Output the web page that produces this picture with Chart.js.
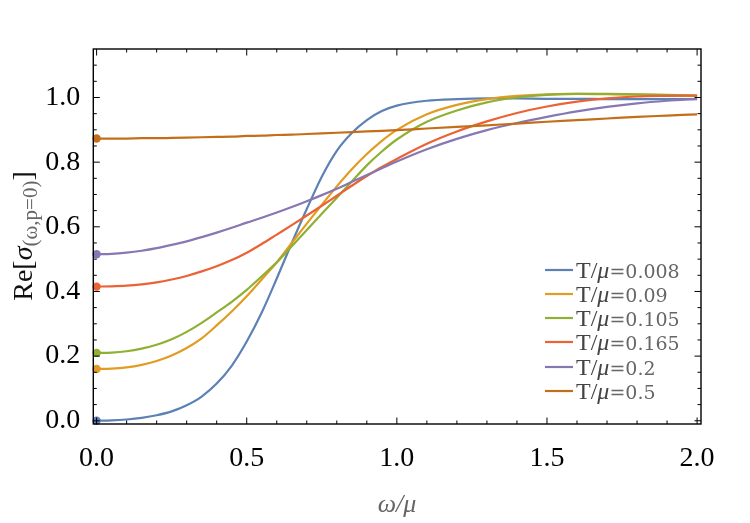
<!DOCTYPE html>
<html><head><meta charset="utf-8">
<script src="https://cdn.jsdelivr.net/npm/chart.js@4/dist/chart.umd.min.js"></script>
<style>html,body{margin:0;padding:0;background:#fff;} canvas{display:block;}</style>
</head><body>
<canvas id="c" width="750" height="523"></canvas>
<script>
// omega / mu sample positions
const omega = [0,0.05,0.1,0.15,0.2,0.25,0.3,0.35,0.4,0.45,0.5,0.55,0.6,0.65,0.7,0.75,0.8,0.85,0.9,0.95,1.0,1.1,1.2,1.3,1.4,1.5,1.6,1.7,1.8,1.9,2.0];
// Re[sigma] for each T/mu
const sigT0008 = [0,0.001,0.004,0.009,0.017,0.029,0.048,0.075,0.115,0.17,0.245,0.335,0.44,0.55,0.655,0.755,0.835,0.89,0.93,0.958,0.975,0.99,0.995,0.997,0.997,0.996,0.996,0.995,0.995,0.995,0.995];
const sigT009  = [0.16,0.161,0.165,0.173,0.185,0.202,0.225,0.255,0.295,0.338,0.385,0.437,0.49,0.55,0.61,0.668,0.725,0.778,0.825,0.866,0.9,0.948,0.977,0.995,1.005,1.01,1.011,1.01,1.009,1.007,1.005];
const sigT0105 = [0.21,0.211,0.215,0.223,0.235,0.252,0.275,0.303,0.335,0.368,0.405,0.447,0.49,0.54,0.59,0.64,0.69,0.74,0.79,0.833,0.87,0.925,0.96,0.985,1.0,1.008,1.011,1.011,1.01,1.008,1.006];
const sigT0165 = [0.415,0.416,0.418,0.422,0.428,0.437,0.448,0.462,0.478,0.497,0.52,0.547,0.576,0.605,0.635,0.665,0.696,0.727,0.757,0.785,0.81,0.857,0.895,0.926,0.952,0.972,0.987,0.997,1.003,1.005,1.006];
const sigT02   = [0.515,0.516,0.52,0.526,0.534,0.544,0.555,0.568,0.582,0.597,0.613,0.628,0.644,0.661,0.679,0.698,0.718,0.739,0.76,0.781,0.802,0.84,0.872,0.899,0.921,0.94,0.957,0.971,0.982,0.99,0.996];
const sigT05   = [0.873,0.873,0.873,0.874,0.874,0.875,0.876,0.877,0.878,0.879,0.881,0.882,0.884,0.885,0.887,0.889,0.891,0.893,0.895,0.897,0.899,0.904,0.909,0.914,0.919,0.925,0.93,0.935,0.94,0.944,0.948];

const seriesValues = [sigT0008, sigT009, sigT0105, sigT0165, sigT02, sigT05];
const seriesLabels = ['0.008','0.09','0.105','0.165','0.2','0.5'];
const seriesColors = ['#5E81B5','#E19C24','#8FB032','#EB6235','#8778B3','#C56E1A'];

const xTickValues = [0,0.5,1,1.5,2];
const xTickLabels = ['0.0','0.5','1.0','1.5','2.0'];
const yTickValues = [0,0.2,0.4,0.6,0.8,1.0];
const yTickLabels = ['0.0','0.2','0.4','0.6','0.8','1.0'];
const xMinorTicks = [0.1,0.2,0.3,0.4,0.6,0.7,0.8,0.9,1.1,1.2,1.3,1.4,1.6,1.7,1.8,1.9];
const yMinorTicks = [0.05,0.1,0.15,0.25,0.3,0.35,0.45,0.5,0.55,0.65,0.7,0.75,0.85,0.9,0.95,1.05,1.1];

const SERIF = '"Liberation Serif", "DejaVu Serif", serif';

const datasets = seriesValues.map((vals, i) => ({
  label: 'T/μ=' + seriesLabels[i],
  data: omega.map((x, k) => ({x: x, y: vals[k]})),
  borderColor: seriesColors[i],
  backgroundColor: seriesColors[i],
  borderWidth: 2.2,
  pointRadius: ctx => ctx.dataIndex === 0 ? 4.2 : 0,
  pointHoverRadius: 0,
  pointBorderWidth: 0,
  pointBackgroundColor: seriesColors[i],
  cubicInterpolationMode: 'monotone',
  fill: false,
  clip: false,
  order: seriesValues.length - 1 - i
}));

const framePlugin = {
  id: 'frame',
  afterDatasetsDraw(chart) {
    const {ctx, chartArea: a, scales: {x, y}} = chart;
    ctx.save();
    ctx.strokeStyle = '#000';
    ctx.lineWidth = 1.4;
    ctx.strokeRect(a.left, a.top, a.right - a.left, a.bottom - a.top);
    ctx.lineWidth = 1;
    ctx.beginPath();
    const seg = (px, py, dx, dy) => { ctx.moveTo(px, py); ctx.lineTo(px + dx, py + dy); };
    xTickValues.forEach(v => { const p = x.getPixelForValue(v); seg(p, a.bottom, 0, -6.5); seg(p, a.top, 0, 6.5); });
    xMinorTicks.forEach(v => { const p = x.getPixelForValue(v); seg(p, a.bottom, 0, -3.5); seg(p, a.top, 0, 3.5); });
    yTickValues.forEach(v => { const p = y.getPixelForValue(v); seg(a.left, p, 6.5, 0); seg(a.right, p, -6.5, 0); });
    yMinorTicks.forEach(v => { const p = y.getPixelForValue(v); seg(a.left, p, 3.5, 0); seg(a.right, p, -3.5, 0); });
    ctx.stroke();
    ctx.restore();
  }
};

const textPlugin = {
  id: 'texts',
  afterDraw(chart) {
    const ctx = chart.ctx;
    ctx.save();
    // x axis title
    ctx.fillStyle = '#666';
    ctx.font = 'italic 26px ' + SERIF;
    ctx.textAlign = 'center';
    ctx.textBaseline = 'alphabetic';
    ctx.fillText('ω/μ', 397, 512);
    // y axis title (rotated)
    ctx.translate(32, 236);
    ctx.rotate(-Math.PI / 2);
    ctx.textAlign = 'left';
    const mainFont = '28px ' + SERIF;
    const subFont = '21px ' + SERIF;
    const pieces = [
      {t: 'Re[', f: mainFont, c: '#111', dy: 0},
      {t: 'σ', f: 'italic ' + mainFont, c: '#111', dy: 0},
      {t: '(ω,p=0)', f: subFont, c: '#666', dy: 5},
      {t: ']', f: mainFont, c: '#111', dy: 0}
    ];
    let total = 0;
    pieces.forEach(p => { ctx.font = p.f; p.w = ctx.measureText(p.t).width; total += p.w; });
    let cx = -total / 2;
    pieces.forEach(p => { ctx.font = p.f; ctx.fillStyle = p.c; ctx.fillText(p.t, cx, p.dy); cx += p.w; });
    ctx.restore();

    // legend
    ctx.save();
    const rowY = [270, 294, 318, 342, 367, 391];
    ctx.textBaseline = 'alphabetic';
    seriesLabels.forEach((lab, i) => {
      const yy = rowY[i];
      ctx.strokeStyle = seriesColors[i];
      ctx.lineWidth = 2.2;
      ctx.beginPath(); ctx.moveTo(545, yy); ctx.lineTo(573, yy); ctx.stroke();
      ctx.font = '24px ' + SERIF;
      ctx.fillStyle = '#444';
      ctx.textAlign = 'left';
      ctx.fillText('T/', 576, yy + 8);
      let w = ctx.measureText('T/').width;
      ctx.font = 'italic 24px ' + SERIF;
      ctx.fillText('μ', 576 + w, yy + 8);
      w += ctx.measureText('μ').width;
      ctx.font = '19px "DejaVu Serif"';
      ctx.fillStyle = '#666';
      ctx.fillText('=' + lab, 576 + w, yy + 8);
    });
    ctx.restore();
  }
};

new Chart(document.getElementById('c'), {
  type: 'line',
  data: { datasets: datasets },
  options: {
    responsive: false,
    animation: false,
    devicePixelRatio: 1,
    layout: { padding: { top: 49, right: 49, left: 0, bottom: 0 } },
    plugins: { legend: { display: false }, tooltip: { enabled: false } },
    scales: {
      x: {
        type: 'linear',
        min: -0.011, max: 2.013,
        afterBuildTicks: s => { s.ticks = xTickValues.map(v => ({value: v})); },
        afterFit: s => { s.height = 99; },
        grid: { display: false },
        border: { display: false },
        ticks: {
          padding: 10,
          color: '#000',
          font: { family: SERIF, size: 28 },
          maxRotation: 0,
          autoSkip: false,
          callback: v => { const k = xTickValues.indexOf(v); return k >= 0 ? xTickLabels[k] : ''; }
        }
      },
      y: {
        type: 'linear',
        min: -0.01, max: 1.15,
        afterBuildTicks: s => { s.ticks = yTickValues.map(v => ({value: v})); },
        afterFit: s => { s.width = 93.3; },
        grid: { display: false },
        border: { display: false },
        ticks: {
          padding: 5,
          color: '#000',
          font: { family: SERIF, size: 28 },
          autoSkip: false,
          callback: v => { const k = yTickValues.indexOf(v); return k >= 0 ? yTickLabels[k] : ''; }
        }
      }
    }
  },
  plugins: [framePlugin, textPlugin]
});
</script>
</body></html>
